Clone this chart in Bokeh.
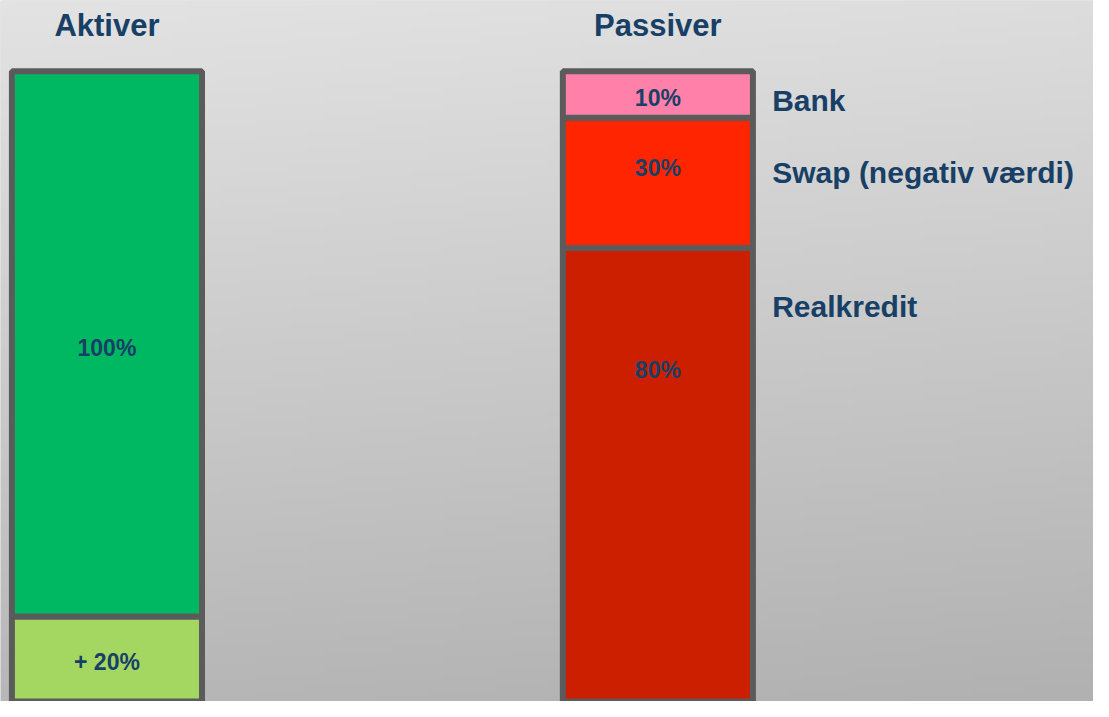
import numpy as np
from bokeh.plotting import figure
from bokeh.models import Range1d
from bokeh.core.properties import value
from bokeh.embed import file_html
from bokeh.resources import INLINE

# ---------------- data ----------------
columns = ["Aktiver", "Passiver"]

# stacked bottom-up
aktiver_values = [20, 100]
aktiver_labels = ["+ 20%", "100%"]
aktiver_colors = ["#a3d762", "#00b862"]
aktiver_label_y = [11.6, 69.3]

passiver_values = [87.6, 23.9, 8.5]
passiver_labels = ["80%", "30%", "10%"]
passiver_colors = ["#cc1f00", "#ff2500", "#ff80a8"]
passiver_label_y = [65.2, 102.3, 115.1]

passiver_names = ["Realkredit", "Swap (negativ værdi)", "Bank"]
passiver_name_y = [76.9, 101.4, 114.7]

# ---------------- styling ----------------
TEXT = "#183f66"
FONT = value("Liberation Sans")
BORDER = "#5b5b5b"

x0, x1 = -0.1932, 1.7907
y0, y1 = 4.39, 133.0

p = figure(width=1093, height=701, output_backend="svg", toolbar_location=None,
           x_range=Range1d(x0, x1), y_range=Range1d(y0, y1),
           x_axis_type=None, y_axis_type=None, min_border=0)
p.min_border_left = p.min_border_right = p.min_border_top = p.min_border_bottom = 0
p.xgrid.visible = False
p.ygrid.visible = False
p.outline_line_color = None
p.background_fill_color = "#cccccc"
p.border_fill_color = "#e2e2e2"

# background gradient
ny, nx = 128, 64
ty = np.linspace(1, 0, ny)[:, None]   # row 0 = bottom -> ty=1 at bottom
tx = np.linspace(0, 1, nx)[None, :]
g = (0xe3 - 0x2c * ty - 0x06 * tx).clip(0, 255).astype(np.uint8)
img = np.empty((ny, nx), dtype=np.uint32)
view = img.view(dtype=np.uint8).reshape((ny, nx, 4))
view[:, :, 0] = g
view[:, :, 1] = g
view[:, :, 2] = g
view[:, :, 3] = 255
p.image_rgba(image=[img], x=x0, y=y0, dw=x1 - x0, dh=y1 - y0)

bar_w = 0.345
stacks = [(aktiver_values, aktiver_colors, aktiver_labels, aktiver_label_y),
          (passiver_values, passiver_colors, passiver_labels, passiver_label_y)]

for i, (vals, cols, labs, laby) in enumerate(stacks):
    tops = np.cumsum(vals)
    bottoms = tops - np.array(vals)
    p.vbar(x=[i] * len(vals), width=bar_w, bottom=bottoms, top=tops,
           fill_color=cols, line_color=BORDER, line_width=6)
    p.text(x=[i] * len(labs), y=laby, text=labs, text_align="center",
           text_baseline="middle", text_font=FONT, text_font_style="bold",
           text_font_size="23px", text_color=TEXT)

# headings
head_y = max(sum(aktiver_values), sum(passiver_values)) + 8.5
p.text(x=[0, 1], y=[head_y, head_y], text=columns, text_align="center",
       text_baseline="middle", text_font=FONT, text_font_style="bold",
       text_font_size="31px", text_color=TEXT)

# right-side names
p.text(x=[1 + 0.2075] * len(passiver_names), y=passiver_name_y, text=passiver_names,
       text_align="left", text_baseline="middle", text_font=FONT,
       text_font_style="bold", text_font_size="30px", text_color=TEXT)

open("out.html", "w").write(file_html(p, INLINE))
